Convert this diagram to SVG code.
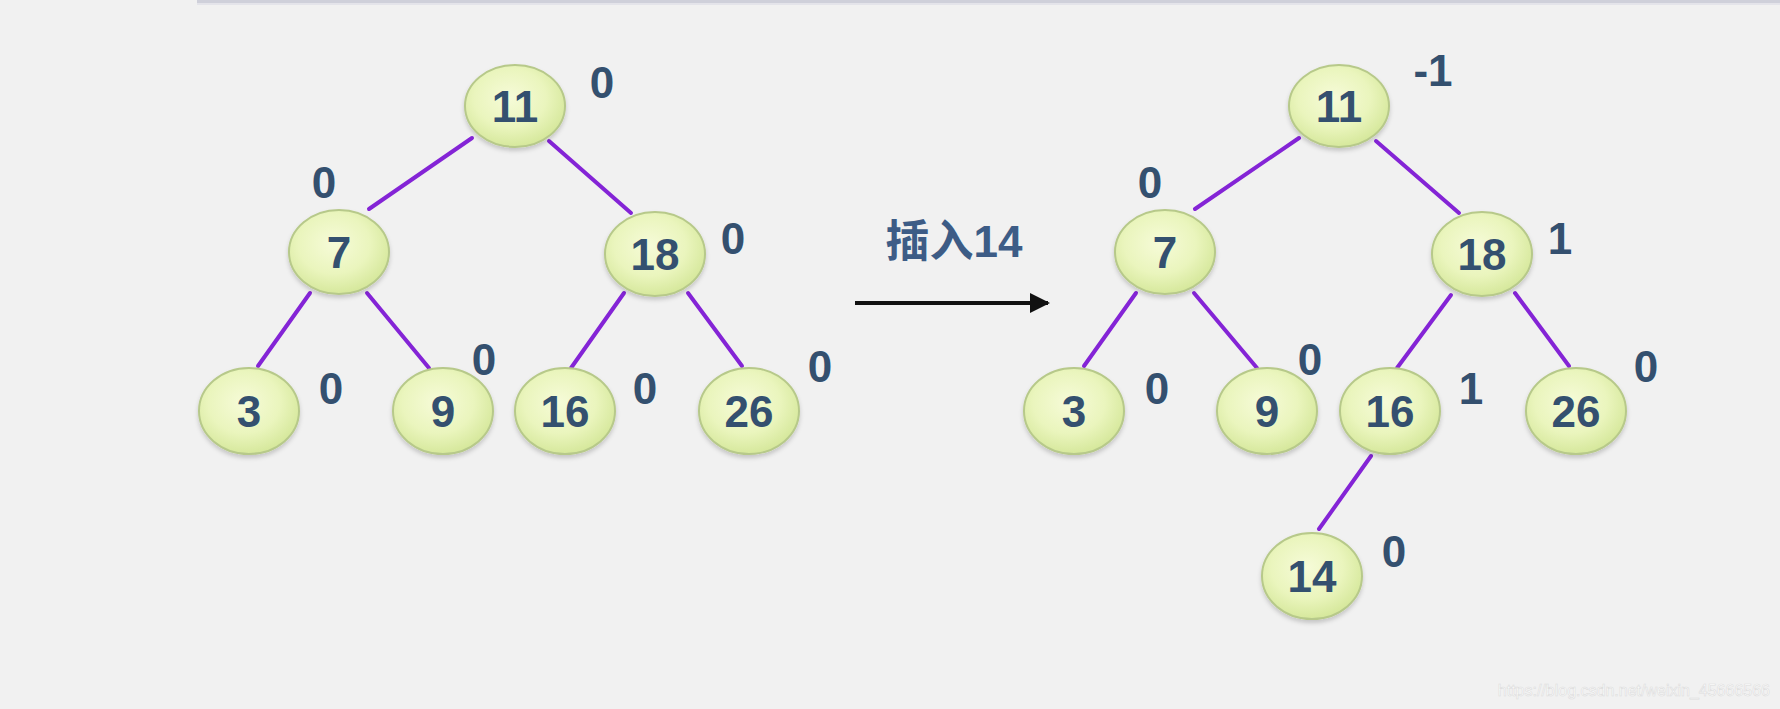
<svg xmlns="http://www.w3.org/2000/svg" width="1780" height="709" viewBox="0 0 1780 709">
<defs>
<radialGradient id="g" cx="0.45" cy="0.4" r="0.6">
<stop offset="0" stop-color="#f6fbd8"/>
<stop offset="0.6" stop-color="#eaf5bd"/>
<stop offset="1" stop-color="#d6e89c"/>
</radialGradient>
<filter id="sh" x="-20%" y="-20%" width="140%" height="150%">
<feDropShadow dx="0" dy="3" stdDeviation="2" flood-color="#000" flood-opacity="0.18"/>
</filter>
<marker id="ah" viewBox="0 0 10 10" refX="9" refY="5" markerWidth="5" markerHeight="5" orient="auto" markerUnits="strokeWidth">
<path d="M0,0 L10,5 L0,10 z" fill="#111"/>
</marker>
<style>
.n ellipse{fill:url(#g);stroke:#b7c98a;stroke-width:2;filter:url(#sh)}
.n text,.b{font-family:"Liberation Sans",Arial,sans-serif;font-weight:bold;font-size:44px;fill:#34506f;text-anchor:middle}
.e line{stroke:#8424d6;stroke-width:4;stroke-linecap:round}
</style>
</defs>
<rect width="1780" height="709" fill="#f1f1f1"/>
<rect x="197" y="0" width="1583" height="3" fill="#cfd0da"/>
<rect x="197" y="3" width="1583" height="2" fill="#e4e4ea"/>
<g id="edges" class="e">
<line x1="472" y1="138" x2="369" y2="209"/>
<line x1="549" y1="141" x2="631" y2="213"/>
<line x1="310" y1="293" x2="258" y2="366"/>
<line x1="367" y1="293" x2="429" y2="368"/>
<line x1="624" y1="293" x2="571" y2="368"/>
<line x1="688" y1="293" x2="742" y2="366"/>
<line x1="1299" y1="138" x2="1195" y2="209"/>
<line x1="1376" y1="141" x2="1459" y2="213"/>
<line x1="1136" y1="293" x2="1084" y2="366"/>
<line x1="1194" y1="293" x2="1257" y2="368"/>
<line x1="1451" y1="295" x2="1397" y2="368"/>
<line x1="1515" y1="293" x2="1569" y2="366"/>
<line x1="1371" y1="456" x2="1319" y2="529"/>
</g>
<g id="arrow">
<line x1="855" y1="303" x2="1048" y2="303" stroke="#111" stroke-width="4" marker-end="url(#ah)"/>
<text class="b" x="954" y="257" font-size="40" style="font-family:'Liberation Sans','Noto Sans CJK SC',sans-serif;fill:#3d5c86">插入14</text>
</g>
<g id="L11" class="n"><ellipse cx="515" cy="106" rx="50" ry="41"/><text x="515" y="122">11</text></g>
<g id="L7" class="n"><ellipse cx="339" cy="252" rx="50" ry="42"/><text x="339" y="268">7</text></g>
<g id="L18" class="n"><ellipse cx="655" cy="254" rx="50" ry="42"/><text x="655" y="270">18</text></g>
<g id="L3" class="n"><ellipse cx="249" cy="411" rx="50" ry="43"/><text x="249" y="427">3</text></g>
<g id="L9" class="n"><ellipse cx="443" cy="411" rx="50" ry="43"/><text x="443" y="427">9</text></g>
<g id="L16" class="n"><ellipse cx="565" cy="411" rx="50" ry="43"/><text x="565" y="427">16</text></g>
<g id="L26" class="n"><ellipse cx="749" cy="411" rx="50" ry="43"/><text x="749" y="427">26</text></g>
<g id="R11" class="n"><ellipse cx="1339" cy="106" rx="50" ry="41"/><text x="1339" y="122">11</text></g>
<g id="R7" class="n"><ellipse cx="1165" cy="252" rx="50" ry="42"/><text x="1165" y="268">7</text></g>
<g id="R18" class="n"><ellipse cx="1482" cy="254" rx="50" ry="42"/><text x="1482" y="270">18</text></g>
<g id="R3" class="n"><ellipse cx="1074" cy="411" rx="50" ry="43"/><text x="1074" y="427">3</text></g>
<g id="R9" class="n"><ellipse cx="1267" cy="411" rx="50" ry="43"/><text x="1267" y="427">9</text></g>
<g id="R16" class="n"><ellipse cx="1390" cy="411" rx="50" ry="43"/><text x="1390" y="427">16</text></g>
<g id="R26" class="n"><ellipse cx="1576" cy="411" rx="50" ry="43"/><text x="1576" y="427">26</text></g>
<g id="R14" class="n"><ellipse cx="1312" cy="576" rx="50" ry="43"/><text x="1312" y="592">14</text></g>
<g id="balance">
<text class="b" x="602" y="98">0</text>
<text class="b" x="324" y="198">0</text>
<text class="b" x="733" y="254">0</text>
<text class="b" x="331" y="404">0</text>
<text class="b" x="484" y="375">0</text>
<text class="b" x="645" y="404">0</text>
<text class="b" x="820" y="382">0</text>
<text class="b" x="1433" y="86">-1</text>
<text class="b" x="1150" y="198">0</text>
<text class="b" x="1560" y="254">1</text>
<text class="b" x="1157" y="404">0</text>
<text class="b" x="1310" y="375">0</text>
<text class="b" x="1471" y="404">1</text>
<text class="b" x="1646" y="382">0</text>
<text class="b" x="1394" y="567">0</text>
</g>
<text x="1770" y="696" text-anchor="end" font-family="'Liberation Sans',Arial,sans-serif" font-size="16" fill="#ffffff" stroke="#dcdcdc" stroke-width="0.6">https://blog.csdn.net/weixin_45666566</text>
</svg>
